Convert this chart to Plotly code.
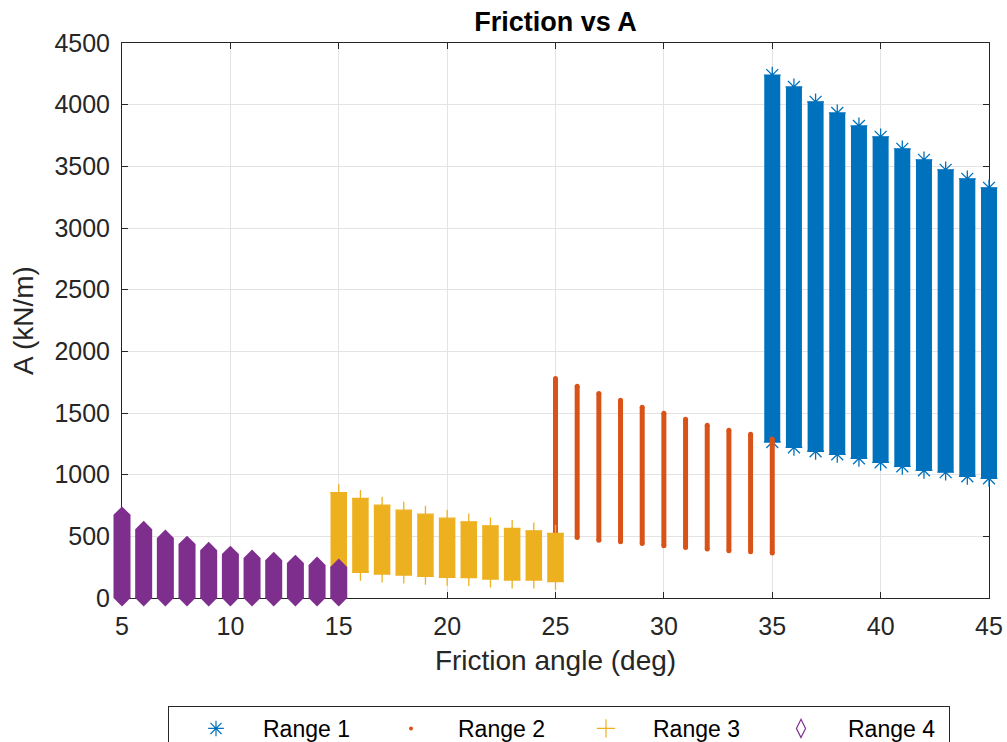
import plotly.graph_objects as go

# ---------------- data ----------------
fric1 = [35, 36, 37, 38, 39, 40, 41, 42, 43, 44, 45]
r1_max = [4240, 4144, 4023, 3933, 3828, 3739, 3642, 3553, 3472, 3399, 3326]
r1_min = [1265, 1222, 1190, 1165, 1133, 1100, 1068, 1036, 1020, 987, 971]

fric2 = [25, 26, 27, 28, 29, 30, 31, 32, 33, 34, 35]
r2_max = [1780, 1716, 1659, 1603, 1546, 1497, 1449, 1400, 1360, 1327, 1290]
r2_min = [520, 491, 469, 456, 442, 423, 410, 397, 383, 375, 364]

fric3 = [15, 16, 17, 18, 19, 20, 21, 22, 23, 24, 25]
r3_max = [855, 807, 753, 712, 680, 647, 618, 585, 564, 545, 523]
r3_min = [250, 207, 194, 186, 175, 167, 165, 154, 146, 146, 132]

fric4 = [5, 6, 7, 8, 9, 10, 11, 12, 13, 14, 15]
r4_max = [674, 558, 486, 437, 388, 356, 324, 307, 283, 267, 251]
r4_min = [0, 0, 0, 0, 0, 0, 0, 0, 0, 0, 0]

series_names = ["Range 1", "Range 2", "Range 3", "Range 4"]
x_ticks = [5, 10, 15, 20, 25, 30, 35, 40, 45]
y_ticks = [0, 500, 1000, 1500, 2000, 2500, 3000, 3500, 4000, 4500]
x_range = [5, 45]
y_range = [0, 4500]

# ---------------- styling / geometry ----------------
FONT = "Liberation Sans, Arial, Helvetica, sans-serif"
W, H = 1007, 742
PLOT_L, PLOT_R = 122, 989          # pixel edges of the visible axes box
M_L, M_R, M_T, M_B = 100, 0, 43, 144
paper_w = W - M_L - M_R
dom0 = (PLOT_L - M_L) / paper_w
dom1 = (PLOT_R - M_L) / paper_w
# secondary (invisible) x-axis spanning the whole paper, same scale as main axis
upp = (x_range[1] - x_range[0]) / (PLOT_R - PLOT_L)   # units per pixel
x2_range = [x_range[0] - (PLOT_L - M_L) * upp, x_range[1] + (W - M_R - PLOT_R) * upp]

colors = ["#0072BD", "#D95319", "#EDB120", "#7E2F8E"]
AX = "#262626"
GRID = "#e3e3e3"


def segs(xs, lo, hi):
    X, Y = [], []
    for x, a, b in zip(xs, lo, hi):
        X += [x, x, None]
        Y += [a, b, None]
    return X, Y


fig = go.Figure()

specs = [
    (fric1, r1_min, r1_max, colors[0], 16, dict(symbol="asterisk-open", size=14, color=colors[0], line=dict(width=1.3, color=colors[0]))),
    (fric2, r2_min, r2_max, colors[1], 5, dict(symbol="circle", size=5, color=colors[1], line=dict(width=0))),
    (fric3, r3_min, r3_max, colors[2], 16.5, dict(symbol="cross-thin-open", size=12, color=colors[2], line=dict(width=1.3, color=colors[2]))),
    (fric4, r4_min, r4_max, colors[3], 17, dict(symbol="diamond", size=13, color=colors[3], line=dict(width=0))),
]

for xs, lo, hi, col, lw, mk in specs:
    X, Y = segs(xs, lo, hi)
    fig.add_trace(go.Scatter(x=X, y=Y, mode="lines", line=dict(color=col, width=lw),
                             xaxis="x2", yaxis="y2", showlegend=False, hoverinfo="skip"))
    fig.add_trace(go.Scatter(x=list(xs) + list(xs), y=list(lo) + list(hi), mode="markers",
                             marker=mk, xaxis="x2", yaxis="y2", showlegend=False,
                             cliponaxis=False, hoverinfo="skip"))

legend_markers = [
    dict(symbol="asterisk-open", size=13, color=colors[0], line=dict(width=1.2, color=colors[0])),
    dict(symbol="circle", size=4, color=colors[1], line=dict(width=0)),
    dict(symbol="cross-thin-open", size=13, color=colors[2], line=dict(width=1.2, color=colors[2])),
    dict(symbol="diamond-tall-open", size=13, color=colors[3], line=dict(width=1.2, color=colors[3])),
]
for name, mk in zip(series_names, legend_markers):
    fig.add_trace(go.Scatter(x=[None], y=[None], mode="markers", name=name, marker=mk))

fig.update_layout(
    width=W, height=H,
    margin=dict(l=M_L, r=M_R, t=M_T, b=M_B, autoexpand=False),
    paper_bgcolor="white", plot_bgcolor="rgba(0,0,0,0)",
    font=dict(family=FONT, color=AX),
    title=dict(text="<b>Friction vs A</b>", font=dict(size=27, color="black", family=FONT),
               x=(PLOT_L + PLOT_R) / 2 / W, xref="container", xanchor="center",
               y=1 - 22 / H, yref="container", yanchor="middle"),
    xaxis=dict(domain=[dom0, dom1], range=x_range, tickvals=x_ticks, ticks="inside", ticklen=6,
               tickcolor=AX, showline=True, linecolor=AX, linewidth=1, mirror="ticks",
               showgrid=True, gridcolor=GRID, gridwidth=1, zeroline=False,
               tickfont=dict(size=25, color=AX), ticklabelstandoff=6,
               title=dict(text="Friction angle (deg)", font=dict(size=28, color=AX), standoff=11)),
    yaxis=dict(domain=[0, 1], range=y_range, tickvals=y_ticks, ticks="inside", ticklen=6,
               tickcolor=AX, showline=True, linecolor=AX, linewidth=1, mirror="ticks",
               showgrid=True, gridcolor=GRID, gridwidth=1, zeroline=False,
               tickfont=dict(size=25, color=AX), ticklabelstandoff=6,
               title=dict(text="A (kN/m)", font=dict(size=28, color=AX), standoff=12)),
    xaxis2=dict(domain=[0, 1], range=x2_range, visible=False, anchor="y2"),
    yaxis2=dict(domain=[0, 1], range=y_range, visible=False, anchor="x2"),
    legend=dict(orientation="h", x=(168 - M_L) / paper_w, y=(598 - 706) / (H - M_T - M_B),
                xanchor="left", yanchor="top", bordercolor=AX, borderwidth=1, bgcolor="white",
                font=dict(size=23, color="black", family=FONT), itemwidth=84,
                entrywidth=96, entrywidthmode="pixels", traceorder="normal"),
    showlegend=True,
)

fig.write_html("out.html")
